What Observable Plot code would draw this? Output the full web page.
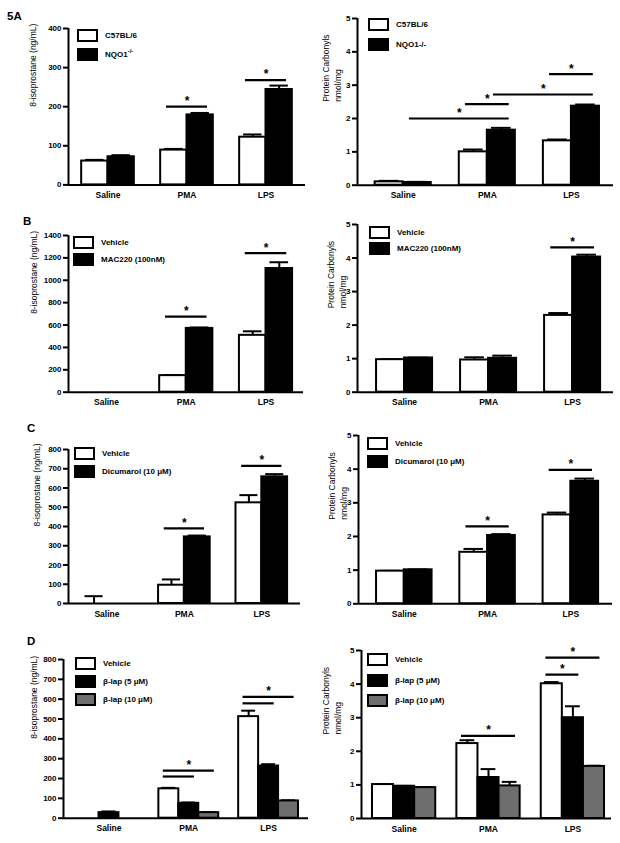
<!DOCTYPE html>
<html><head><meta charset="utf-8">
<script src="https://cdn.jsdelivr.net/npm/d3@7"></script>
<script src="https://cdn.jsdelivr.net/npm/@observablehq/plot@0.6"></script>
<style>
body{margin:0;background:#fff;}
#fig{position:relative;width:620px;height:843px;background:#fff;font-family:"Liberation Sans",Arial,sans-serif;overflow:hidden}
.panel{position:absolute}
.tag{position:absolute;font-weight:bold;font-size:11.5px;line-height:12px;color:#000}
.legend{position:absolute;font-size:8px;font-weight:bold;color:#000}
.legend .row{position:absolute;left:0;display:flex;align-items:center;white-space:nowrap}
.legend .box{width:21px;height:13px;border:2px solid #000;box-sizing:border-box;margin-right:7px}
.legend sup{font-size:6px;line-height:0}
</style></head><body><div id="fig"></div>
<script>
// ---------- data ----------
const categories = ["Saline", "PMA", "LPS"];
const strainSeries = ["C57BL/6", "NQO1-/-"];
const macSeries = ["Vehicle", "MAC220 (100nM)"];
const dicSeries = ["Vehicle", "Dicumarol (10 \u03bcM)"];
const lapSeries = ["Vehicle", "\u03b2-lap (5 \u03bcM)", "\u03b2-lap (10 \u03bcM)"];
const seriesFills = ["#ffffff", "#000000", "#6e6e6e"];

const isoLabel = "8-isoprostane (ng/mL)";
const carbLabel = "Protein Carbonyls\nnmol/mg";

const isoA_ticks = [0, 100, 200, 300, 400];
const isoB_ticks = [0, 200, 400, 600, 800, 1000, 1200, 1400];
const isoCD_ticks = [0, 100, 200, 300, 400, 500, 600, 700, 800];
const carb_ticks = [0, 1, 2, 3, 4, 5];

// means and SEM per category [Saline, PMA, LPS] x series
const isoA_mean = [[61, 72], [89, 179], [122, 244]];
const isoA_sem  = [[3, 4], [3, 5], [7, 10]];
const carbA_mean = [[0.10, 0.08], [1.00, 1.65], [1.33, 2.37]];
const carbA_sem  = [[0.03, 0.02], [0.07, 0.07], [0.04, 0.05]];
const isoB_mean = [[0, 0], [148, 570], [508, 1105]];
const isoB_sem  = [[0, 0], [5, 8], [36, 56]];
const carbB_mean = [[0.97, 1.02], [0.96, 1.01], [2.29, 4.03]];
const carbB_sem  = [[0.01, 0.01], [0.08, 0.08], [0.07, 0.07]];
const isoC_mean = [[0, 0], [95, 346], [523, 658]];
const isoC_sem  = [[38, 0], [30, 7], [40, 14]];
const carbC_mean = [[0.97, 1.01], [1.53, 2.03], [2.64, 3.64]];
const carbC_sem  = [[0.01, 0.01], [0.10, 0.04], [0.07, 0.08]];
const isoD_mean = [[0, 28, 0], [148, 75, 28], [512, 263, 87]];
const isoD_sem  = [[0, 6, 0], [5, 4, 2], [30, 9, 3]];
const carbD_mean = [[1.01, 0.96, 0.92], [2.23, 1.22, 0.97], [4.01, 3.00, 1.55]];
const carbD_sem  = [[0.01, 0.01, 0.01], [0.10, 0.25, 0.12], [0.05, 0.34, 0.02]];

// significance bars: [from category, from series, to category, to series, height, star]
const isoA_sig = [["PMA",0,"PMA",1,200,true], ["LPS",0,"LPS",1,268,true]];
const carbA_sig = [["Saline",1,"PMA",1,2.0,true], ["PMA",0,"PMA",1,2.43,true], ["PMA",1,"LPS",1,2.72,true], ["LPS",0,"LPS",1,3.33,true]];
const isoB_sig = [["PMA",0,"PMA",1,676,true], ["LPS",0,"LPS",1,1242,true]];
const carbB_sig = [["LPS",0,"LPS",1,4.32,true]];
const isoC_sig = [["PMA",0,"PMA",1,390,true], ["LPS",0,"LPS",1,715,true]];
const carbC_sig = [["PMA",0,"PMA",1,2.30,true], ["LPS",0,"LPS",1,3.98,true]];
const isoD_sig = [["PMA",0,"PMA",1,210,false], ["PMA",0,"PMA",2,240,true], ["LPS",0,"LPS",1,579,false], ["LPS",0,"LPS",2,612,true]];
const carbD_sig = [["PMA",0,"PMA",2,2.46,true], ["LPS",0,"LPS",1,4.28,true], ["LPS",0,"LPS",2,4.79,true]];

// ---------- layout ----------
const panels = [
  {mean: isoA_mean, sem: isoA_sem, sig: isoA_sig, series: strainSeries, ticks: isoA_ticks, yLabel: isoLabel, sup: true,
   col: 0, x0: 68, x1: 305, yTop: 28.3, y0: 184.7, xDomain: [-0.5, 8.5], labelDx: -36, legend: {left: 77, top: 29, rowH: 19}},
  {mean: carbA_mean, sem: carbA_sem, sig: carbA_sig, series: strainSeries, ticks: carb_ticks, yLabel: carbLabel,
   col: 310, x0: 357, x1: 613, yTop: 18.3, y0: 185, xDomain: [-0.63, 8.5], labelDx: -26, legend: {left: 368, top: 18, rowH: 20}},
  {mean: isoB_mean, sem: isoB_sem, sig: isoB_sig, series: macSeries, ticks: isoB_ticks, yLabel: isoLabel,
   col: 0, x0: 68, x1: 303, yTop: 235, y0: 391.7, xDomain: [-0.43, 8.41], labelDx: -35, legend: {left: 73, top: 236, rowH: 16.5}},
  {mean: carbB_mean, sem: carbB_sem, sig: carbB_sig, series: macSeries, ticks: carb_ticks, yLabel: carbLabel,
   col: 310, x0: 357, x1: 613, yTop: 224, y0: 391.7, xDomain: [-0.68, 8.46], labelDx: -21, legend: {left: 369, top: 226, rowH: 16}},
  {mean: isoC_mean, sem: isoC_sem, sig: isoC_sig, series: dicSeries, ticks: isoCD_ticks, yLabel: isoLabel,
   col: 0, x0: 68, x1: 300, yTop: 449.3, y0: 603.3, xDomain: [-0.49, 8.5], labelDx: -32, legend: {left: 74, top: 447, rowH: 17.5}},
  {mean: carbC_mean, sem: carbC_sem, sig: carbC_sig, series: dicSeries, ticks: carb_ticks, yLabel: carbLabel,
   col: 310, x0: 358, x1: 612, yTop: 435, y0: 603.3, xDomain: [-0.65, 8.5], labelDx: -21, legend: {left: 367, top: 437, rowH: 18}},
  {mean: isoD_mean, sem: isoD_sem, sig: isoD_sig, series: lapSeries, ticks: isoCD_ticks, yLabel: isoLabel,
   col: 0, x0: 63, x1: 308, yTop: 659.3, y0: 818, xDomain: [-0.78, 11.5], labelDx: -30, legend: {left: 75, top: 657, rowH: 18}},
  {mean: carbD_mean, sem: carbD_sem, sig: carbD_sig, series: lapSeries, ticks: carb_ticks, yLabel: carbLabel,
   col: 310, x0: 361, x1: 611, yTop: 650, y0: 818, xDomain: [-0.52, 11.33], labelDx: -30, legend: {left: 367, top: 653, rowH: 20.5}}
];
const tags = [
  {text: "5A", left: 7, top: 10},
  {text: "B", left: 23, top: 215},
  {text: "C", left: 27, top: 422},
  {text: "D", left: 27, top: 635}
];

const fig = document.getElementById("fig");
const FONT = "'Liberation Sans', Arial, sans-serif";

function makePanel(p) {
  const n = p.series.length;
  const slot = (cat, s) => categories.indexOf(cat) * (n + 1) + s;
  const rows = [];
  categories.forEach((cat, ci) => {
    p.series.forEach((ser, si) => {
      const s = slot(cat, si);
      rows.push({cat, ser, x1: s, x2: s + 1, xc: s + 0.5, value: p.mean[ci][si], sem: p.sem[ci][si], fill: seriesFills[si]});
    });
  });
  const errRows = rows.filter(d => d.sem > 0);
  const sigRows = p.sig.map(([c1, s1, c2, s2, y, star]) => {
    const a = slot(c1, s1) + 0.5 - 0.28, b = slot(c2, s2) + 0.5 + 0.28;
    return {a, b, mid: (a + b) / 2, y, star};
  });
  const centers = categories.map((c, ci) => ci * (n + 1) + n / 2);
  const names = new Map(centers.map((c, i) => [c, categories[i]]));
  const mt = 6, mb = 24;
  const height = (p.y0 - p.yTop) + mt + mb;
  const yMax = p.ticks[p.ticks.length - 1];

  const svg = Plot.plot({
    width: 310,
    height,
    marginLeft: p.x0 - p.col,
    marginRight: p.col + 310 - p.x1,
    marginTop: mt,
    marginBottom: mb,
    x: {domain: p.xDomain},
    y: {domain: [0, yMax]},
    color: {type: "identity"},
    style: {fontFamily: FONT, fontSize: "8px", fontWeight: "bold", overflow: "visible", background: "transparent", color: "#000"},
    marks: [
      Plot.ruleX(errRows, {x: "xc", y1: "value", y2: d => d.value + d.sem, stroke: "#000", strokeWidth: 2}),
      Plot.ruleY(errRows, {y: d => d.value + d.sem, x1: d => d.xc - 0.35, x2: d => d.xc + 0.35, stroke: "#000", strokeWidth: 2}),
      Plot.rect(rows.filter(d => d.value > 0), {x1: "x1", x2: "x2", y1: 0, y2: "value", fill: "fill", stroke: "#000", strokeWidth: 2}),
      Plot.ruleY(sigRows, {y: "y", x1: "a", x2: "b", stroke: "#000", strokeWidth: 2.2}),
      Plot.text(sigRows.filter(d => d.star), {x: "mid", y: "y", text: () => "*", dy: -5.5, fontSize: 12, fontWeight: "bold"}),
      Plot.axisY(p.ticks, {tickSize: 5, tickPadding: 2, strokeWidth: 2, tickFormat: d => String(d), label: null, fontSize: 8, fontWeight: "bold"}),
      Plot.axisX(centers, {tickSize: 0, tickPadding: 7, tickFormat: d => names.get(d), label: null, fontSize: 8.5, fontWeight: "bold"}),
      Plot.ruleX([p.xDomain[0]], {stroke: "#000", strokeWidth: 2}),
      Plot.ruleY([0], {stroke: "#000", strokeWidth: 2}),
      Plot.text([p.yLabel], {frameAnchor: "left", dx: p.labelDx, rotate: -90, text: d => d, fontSize: 8.5, fontWeight: "normal", lineHeight: 1.4})
    ]
  });
  svg.classList.add("panel");
  svg.style.left = p.col + "px";
  svg.style.top = (p.yTop - mt) + "px";
  fig.appendChild(svg);

  // legend
  const lg = document.createElement("div");
  lg.className = "legend";
  lg.style.left = p.legend.left + "px";
  lg.style.top = p.legend.top + "px";
  p.series.forEach((ser, i) => {
    const row = document.createElement("div");
    row.className = "row";
    row.style.top = (i * p.legend.rowH) + "px";
    const box = document.createElement("div");
    box.className = "box";
    box.style.background = seriesFills[i];
    row.appendChild(box);
    const t = document.createElement("span");
    if (p.sup && ser.endsWith("-/-")) {
      t.appendChild(document.createTextNode(ser.slice(0, -3)));
      const s = document.createElement("sup");
      s.textContent = "-/-";
      t.appendChild(s);
    } else {
      t.textContent = ser;
    }
    row.appendChild(t);
    lg.appendChild(row);
  });
  fig.appendChild(lg);
}

panels.forEach(makePanel);
tags.forEach(t => {
  const d = document.createElement("div");
  d.className = "tag";
  d.style.left = t.left + "px";
  d.style.top = t.top + "px";
  d.textContent = t.text;
  fig.appendChild(d);
});
</script></body></html>
